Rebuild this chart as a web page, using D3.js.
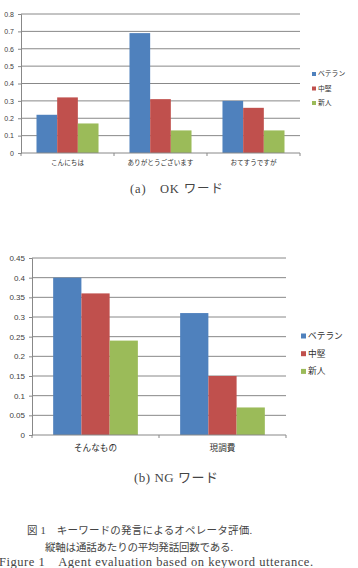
<!DOCTYPE html>
<html>
<head>
<meta charset="utf-8">
<script src="https://cdn.jsdelivr.net/npm/d3@7"></script>
<style>
  body { margin: 0; background: #fff; }
  svg { display: block; }
</style>
</head>
<body>
<div id="chart"></div>
<script>
const seriesNames = ['ベテラン', '中堅', '新人'];
const seriesColors = ['#4F81BD', '#C0504D', '#9BBB59'];

const okWords = ['こんにちは', 'ありがとうございます', 'おてすうですが'];
const okVeteran = [0.22, 0.69, 0.30];
const okMiddle = [0.32, 0.31, 0.26];
const okNew = [0.17, 0.13, 0.13];
const okTicks = [0, 0.1, 0.2, 0.3, 0.4, 0.5, 0.6, 0.7, 0.8];

const ngWords = ['そんなもの', '現調費'];
const ngVeteran = [0.40, 0.31];
const ngMiddle = [0.36, 0.15];
const ngNew = [0.24, 0.07];
const ngTicks = [0, 0.05, 0.1, 0.15, 0.2, 0.25, 0.3, 0.35, 0.4, 0.45];

const captionLines = [
  '図 1　キーワードの発言によるオペレータ評価.',
  '縦軸は通話あたりの平均発話回数である.',
  'Figure 1　Agent evaluation based on keyword utterance.'
];

const w = 358, h = 568;
const jp = '"Noto Sans CJK JP", "Noto Sans", sans-serif';
const serif = '"Liberation Serif", "DejaVu Serif", "Noto Sans CJK JP", serif';

const svg = d3.select('#chart').append('svg')
  .attr('width', w)
  .attr('height', h);

function drawChart(opt) {
  const g = svg.append('g');
  const series = [opt.a, opt.b, opt.c];

  const x = d3.scaleBand()
    .domain(opt.cats)
    .range([opt.left, opt.right])
    .paddingInner(0.333)
    .paddingOuter(0.1667);
  const x1 = d3.scaleBand()
    .domain(d3.range(series.length))
    .range([0, x.bandwidth()]);
  const y = d3.scaleLinear()
    .domain([0, d3.max(opt.ticks)])
    .range([opt.bottom, opt.top]);

  // grid lines
  g.selectAll('line.grid')
    .data(opt.ticks.slice(1))
    .enter().append('line')
    .attr('x1', opt.left).attr('x2', opt.right)
    .attr('y1', d => y(d)).attr('y2', d => y(d))
    .attr('stroke', '#888')
    .attr('stroke-width', 1);

  // bars
  series.forEach(function(vals, s) {
    g.selectAll('rect.s' + s)
      .data(vals)
      .enter().append('rect')
      .attr('x', (d, i) => x(opt.cats[i]) + x1(s))
      .attr('y', d => y(d))
      .attr('width', x1.bandwidth())
      .attr('height', d => opt.bottom - y(d))
      .attr('fill', seriesColors[s]);
  });

  // y axis
  const yAxis = g.append('g')
    .attr('transform', `translate(${opt.left},0)`)
    .call(d3.axisLeft(y).tickValues(opt.ticks).tickSize(3).tickPadding(4)
      .tickFormat(d => String(+d.toFixed(2))));
  yAxis.select('.domain').attr('stroke', '#888');
  yAxis.selectAll('.tick line').attr('stroke', '#888');
  yAxis.selectAll('.tick text')
    .style('font-family', '"Liberation Sans", Arial, sans-serif')
    .style('font-size', opt.tickSize + 'px')
    .attr('fill', '#404040');

  // x axis baseline with boundary ticks
  const edges = opt.cats.map(c => x(c) - x.step() * x.paddingInner() / 2).concat([opt.right]);
  g.append('line')
    .attr('x1', opt.left).attr('x2', opt.right)
    .attr('y1', opt.bottom).attr('y2', opt.bottom)
    .attr('stroke', '#888');
  g.selectAll('line.xt')
    .data(edges)
    .enter().append('line')
    .attr('x1', d => d).attr('x2', d => d)
    .attr('y1', opt.bottom).attr('y2', opt.bottom + 3)
    .attr('stroke', '#888');

  g.selectAll('text.cat')
    .data(opt.cats)
    .enter().append('text')
    .attr('x', d => x(d) + x.bandwidth() / 2)
    .attr('y', opt.bottom + opt.catOffset)
    .attr('text-anchor', 'middle')
    .style('font-family', jp)
    .style('font-size', opt.catSize + 'px')
    .attr('fill', '#303030')
    .text(d => d);

  // legend
  const legend = g.selectAll('g.legend')
    .data(seriesNames)
    .enter().append('g')
    .attr('transform', (d, i) => `translate(${opt.legX},${opt.legY + i * opt.legStep})`);
  legend.append('rect')
    .attr('x', 0).attr('y', -opt.legBox / 2)
    .attr('width', opt.legBox).attr('height', opt.legBox)
    .attr('fill', (d, i) => seriesColors[i]);
  legend.append('text')
    .attr('x', opt.legBox + 2)
    .attr('dy', '0.35em')
    .style('font-family', jp)
    .style('font-size', opt.legSize + 'px')
    .attr('fill', '#303030')
    .text(d => d);

  svg.append('text')
    .attr('x', opt.capX)
    .attr('y', opt.capY)
    .attr('textLength', opt.capLen)
    .attr('lengthAdjust', 'spacing')
    .style('font-family', serif)
    .style('font-size', opt.capSize + 'px')
    .attr('fill', '#444')
    .text(opt.caption);
}

drawChart({
  cats: okWords, a: okVeteran, b: okMiddle, c: okNew, ticks: okTicks,
  left: 21, right: 300, top: 14, bottom: 153,
  tickSize: 7, catSize: 6.6, catOffset: 12,
  legX: 312, legY: 74, legStep: 14.5, legBox: 4, legSize: 6.8,
  caption: '(a)　OK ワード', capX: 130, capY: 193, capLen: 93, capSize: 12.5
});

drawChart({
  cats: ngWords, a: ngVeteran, b: ngMiddle, c: ngNew, ticks: ngTicks,
  left: 32, right: 286, top: 258, bottom: 435,
  tickSize: 8, catSize: 8.6, catOffset: 16,
  legX: 301, legY: 336, legStep: 17.7, legBox: 5, legSize: 8.7,
  caption: '(b) NG ワード', capX: 134, capY: 482, capLen: 84, capSize: 13
});

const capX = [27, 45, -1];
const capLen = [225, 188, 314];
svg.selectAll('text.capline')
  .data(captionLines)
  .enter().append('text')
  .attr('x', (d, i) => capX[i])
  .attr('y', (d, i) => [534, 551, 566][i])
  .attr('textLength', (d, i) => capLen[i])
  .attr('lengthAdjust', 'spacing')
  .style('font-family', serif)
  .style('font-size', (d, i) => i === 2 ? '12.5px' : '10.5px')
  .attr('fill', '#444')
  .text(d => d);
</script>
</body>
</html>
